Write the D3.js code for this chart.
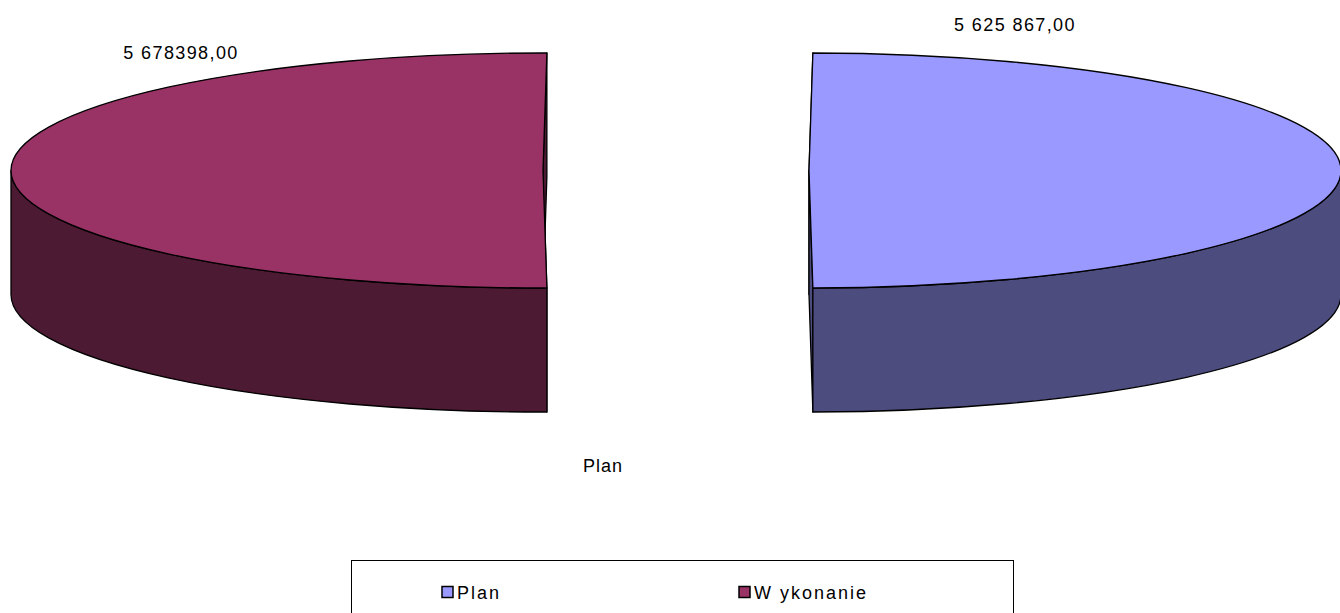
<!DOCTYPE html>
<html>
<head>
<meta charset="utf-8">
<script src="https://cdn.jsdelivr.net/npm/d3@7"></script>
<style>
  body { margin: 0; background: #fff; }
  text { font-family: "Liberation Sans", Arial, sans-serif; fill: #000; }
</style>
</head>
<body>
<div id="chart"></div>
<script>
// data
var categories = ["Plan", "Wykonanie"];
var values = [5625867, 5678398];
var valueLabels = ["5 625 867,00", "5 678398,00"];
var seriesName = "Plan";

var topColors = ["#9999ff", "#993366"],
    sideColors = ["#4c4c7f", "#4d1a33"];

var width = 1340, height = 613;

// 3d pie geometry
var cx = 676, cy = 170.5, rx = 532, ry = 117.5, depth = 124, explode = 133;
// label offsets from slice centre
var labelPos = [[206, -140], [-362, -112]];

var svg = d3.select("#chart").append("svg")
    .attr("width", width)
    .attr("height", height);

// centre the first slice on 3 o'clock
var total = d3.sum(values);
var firstSpan = 2 * Math.PI * values[0] / total;
var start = Math.PI / 2 - firstSpan / 2;
var pie = d3.pie().sort(null).value(function (d) { return d; })
    .startAngle(start).endAngle(start + 2 * Math.PI);
var arcs = pie(values);

function pt(c, a, z) {
    return [c[0] + rx * Math.sin(a), c[1] - ry * Math.cos(a) + z];
}

function norm(a) {
    var t = a % (2 * Math.PI);
    return t < 0 ? t + 2 * Math.PI : t;
}

arcs.forEach(function (d, i) {
    var mid = (d.startAngle + d.endAngle) / 2;
    var c = [cx + explode * Math.sin(mid), cy - explode * Math.cos(mid) * ry / rx];
    var g = svg.append("g").attr("class", "slice");

    // cut faces
    [d.startAngle, d.endAngle].forEach(function (a) {
        var p0 = pt(c, a, 0), p1 = pt(c, a, depth);
        var path = d3.path();
        path.moveTo(c[0], c[1]);
        path.lineTo(p0[0], p0[1]);
        path.lineTo(p1[0], p1[1]);
        path.lineTo(c[0], c[1] + depth);
        path.closePath();
        g.append("path").attr("d", path.toString())
            .attr("fill", sideColors[i]).attr("stroke", "#000").attr("stroke-width", 1.3)
            .attr("stroke-linejoin", "round");
    });

    // outer wall, front half only
    var a0 = norm(d.startAngle), a1 = a0 + (d.endAngle - d.startAngle);
    var s0 = Math.max(a0, Math.PI / 2),
        s1 = Math.min(a1, Math.PI * 1.5);
    if (s1 > s0) {
        var a = pt(c, s0, 0), b = pt(c, s1, 0), b2 = pt(c, s1, depth), a2 = pt(c, s0, depth);
        var dd = "M" + a + "A" + rx + "," + ry + " 0 0 1 " + b +
            "L" + b2 + "A" + rx + "," + ry + " 0 0 0 " + a2 + "Z";
        g.append("path").attr("d", dd)
            .attr("fill", sideColors[i]).attr("stroke", "#000").attr("stroke-width", 1.3)
            .attr("stroke-linejoin", "round");
    }

    // top face
    var t0 = pt(c, d.startAngle, 0), t1 = pt(c, d.endAngle, 0);
    var large = (d.endAngle - d.startAngle) > Math.PI ? 1 : 0;
    g.append("path")
        .attr("d", "M" + c + "L" + t0 + "A" + rx + "," + ry + " 0 " + large + " 1 " + t1 + "Z")
        .attr("fill", topColors[i]).attr("stroke", "#000").attr("stroke-width", 1.3)
        .attr("stroke-linejoin", "round");

    svg.append("text")
        .attr("x", c[0] + labelPos[i][0])
        .attr("y", c[1] + labelPos[i][1])
        .attr("text-anchor", "middle")
        .attr("font-size", "18px")
        .attr("letter-spacing", "1.4px")
        .text(valueLabels[i]);
});

svg.append("text")
    .attr("x", 603)
    .attr("y", 472)
    .attr("text-anchor", "middle")
    .attr("font-size", "18px")
    .attr("letter-spacing", "1px")
    .text(seriesName);

// legend
var legend = svg.append("g").attr("transform", "translate(351,560)");
legend.append("rect")
    .attr("x", 0.5).attr("y", 0.5)
    .attr("width", 662).attr("height", 70)
    .attr("fill", "#fff").attr("stroke", "#000").attr("stroke-width", 1);

var legendX = d3.scalePoint().domain(categories).range([91, 388]);

var item = legend.selectAll(".item")
    .data(categories)
    .enter().append("g")
    .attr("class", "item")
    .attr("transform", function (d) { return "translate(" + legendX(d) + ",0)"; });

item.append("rect")
    .attr("x", 0).attr("y", 26.5)
    .attr("width", 11).attr("height", 11)
    .attr("fill", function (d, i) { return topColors[i]; })
    .attr("stroke", "#000").attr("stroke-width", 1.5);

item.append("text")
    .attr("x", 15)
    .attr("y", 39)
    .attr("font-size", "18px")
    .attr("letter-spacing", "2px")
    .text(function (d) { return d === "Wykonanie" ? "W ykonanie" : d; });
</script>
</body>
</html>
